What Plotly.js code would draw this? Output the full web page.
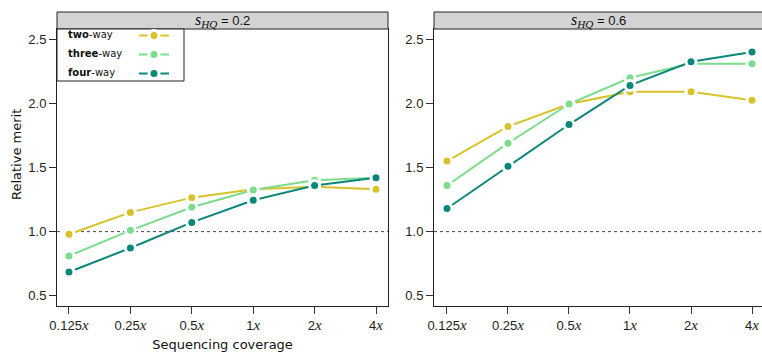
<!DOCTYPE html>
<html>
<head>
<meta charset="utf-8">
<script src="https://cdn.plot.ly/plotly-3.0.1.min.js"></script>
<style>html,body{margin:0;padding:0;background:#fff;}#chart{width:762px;height:353px;}</style>
</head>
<body>
<div id="chart"></div>
<script>
// ---- data ----
const coverage = ["0.125", "0.25", "0.5", "1", "2", "4"];
const seriesNames = ["two", "three", "four"];
const panelTitles = ["0.2", "0.6"];

// s_HQ = 0.2
const twoWay02   = [0.98, 1.15, 1.265, 1.33, 1.35, 1.33];
const threeWay02 = [0.81, 1.01, 1.19, 1.325, 1.40, 1.42];
const fourWay02  = [0.685, 0.872, 1.072, 1.245, 1.36, 1.42];

// s_HQ = 0.6
const twoWay06   = [1.55, 1.82, 1.995, 2.09, 2.09, 2.025];
const threeWay06 = [1.36, 1.69, 1.995, 2.20, 2.31, 2.31];
const fourWay06  = [1.18, 1.51, 1.835, 2.14, 2.325, 2.40];

const colors = ["#d8c22a", "#7bdc8b", "#0b877a"];

// ---- build ----
const W = 762, H = 353;
const px = v => v / W;
const py = v => (H - v) / H;

const italX = '<span style="font-family:\'Liberation Serif\',serif;font-style:italic;font-size:15px">x</span>';
const tickText = coverage.map(c => c + italX);

const panels = [
  [twoWay02, threeWay02, fourWay02],
  [twoWay06, threeWay06, fourWay06]
];

const traces = [];
panels.forEach((set, p) => {
  set.forEach((vals, i) => {
    traces.push({
      type: 'scatter', mode: 'lines+markers',
      x: coverage, y: vals,
      xaxis: p === 0 ? 'x' : 'x2', yaxis: p === 0 ? 'y' : 'y2',
      name: ' ',
      showlegend: p === 0,
      line: {color: colors[i], width: 2},
      marker: {color: colors[i], size: 10, line: {color: '#ffffff', width: 3}},
      cliponaxis: false
    });
  });
});

const yTickFont = {family: 'Liberation Sans, Arial, sans-serif', size: 13, color: '#222'};

function xa(domain, range, anchor) {
  return {
    domain: domain, type: 'category', range: range, anchor: anchor,
    tickmode: 'array', tickvals: coverage, ticktext: tickText,
    ticks: 'outside', ticklen: 7, tickcolor: '#333', tickwidth: 1,
    showline: true, mirror: true, linecolor: '#222', linewidth: 1,
    showgrid: false, zeroline: false,
    tickfont: yTickFont, fixedrange: true
  };
}
function ya(anchor) {
  return {
    domain: [py(306), py(29)], range: [0.42, 2.58], anchor: anchor,
    tickvals: [0.5, 1.0, 1.5, 2.0, 2.5], ticktext: ['0.5', '1.0', '1.5', '2.0', '2.5'],
    ticks: 'outside', ticklen: 7, tickcolor: '#333', tickwidth: 1,
    showline: true, mirror: true, linecolor: '#222', linewidth: 1,
    showgrid: false, zeroline: false,
    tickfont: yTickFont, fixedrange: true
  };
}

const xaxis = xa([px(57), px(388)], [-0.195, 5.195], 'y');
xaxis.title = {text: 'Sequencing coverage', font: {family: 'DejaVu Sans, sans-serif', size: 13, color: '#111'}, standoff: 8};
const xaxis2 = xa([px(434), 1], [-0.213, 5.164], 'y2');
const yaxis = ya('x');
const yaxis2 = ya('x2');

const shapes = [
  // reference line at 1.0, inside each panel
  {type: 'line', xref: 'x domain', yref: 'y', x0: 0, x1: 1, y0: 1, y1: 1,
   line: {color: '#444', width: 1, dash: 'dot'}, layer: 'below'},
  {type: 'line', xref: 'x2 domain', yref: 'y2', x0: 0, x1: 1, y0: 1, y1: 1,
   line: {color: '#444', width: 1, dash: 'dot'}, layer: 'below'},
  // strips
  {type: 'rect', xref: 'paper', yref: 'paper', x0: px(57), x1: px(388), y0: py(29), y1: py(12),
   fillcolor: '#d3d3d3', line: {color: '#222', width: 1}},
  {type: 'rect', xref: 'paper', yref: 'paper', x0: px(434), x1: px(763), y0: py(29), y1: py(12),
   fillcolor: '#d3d3d3', line: {color: '#222', width: 1}},
  // legend box
  {type: 'rect', xref: 'paper', yref: 'paper', x0: px(57), x1: px(184), y0: py(81), y1: py(29),
   fillcolor: '#ffffff', line: {color: '#222', width: 1}, layer: 'above'}
];

const stripFont = {family: 'Liberation Sans, Arial, sans-serif', size: 13, color: '#111'};
const sHQ = '<span style="font-family:\'Liberation Serif\',serif;font-style:italic;font-size:16px">s<sub>HQ</sub></span> = ';
const annotations = [
  {xref: 'paper', yref: 'paper', x: px(222), y: py(20.5), xanchor: 'center', yanchor: 'middle', showarrow: false,
   text: sHQ + panelTitles[0], font: stripFont},
  {xref: 'paper', yref: 'paper', x: px(598), y: py(20.5), xanchor: 'center', yanchor: 'middle', showarrow: false,
   text: sHQ + panelTitles[1], font: stripFont},
  {xref: 'paper', yref: 'paper', x: px(16), y: py(155), xanchor: 'center', yanchor: 'middle', showarrow: false,
   textangle: -90, text: 'Relative merit', font: {family: 'DejaVu Sans, sans-serif', size: 13, color: '#111'}}
];
const legendY = [35, 53.5, 72];
seriesNames.forEach((n, i) => {
  annotations.push({xref: 'paper', yref: 'paper', x: px(66), y: py(legendY[i]), xanchor: 'left', yanchor: 'middle',
    showarrow: false, text: '<b>' + n + '</b>-way',
    font: {family: 'DejaVu Sans, sans-serif', size: 10, color: '#111'}});
});

const layout = {
  width: W, height: H,
  margin: {l: 0, r: 0, t: 0, b: 0},
  paper_bgcolor: '#fff', plot_bgcolor: '#fff',
  xaxis: xaxis, yaxis: yaxis, xaxis2: xaxis2, yaxis2: yaxis2,
  shapes: shapes, annotations: annotations,
  showlegend: true,
  legend: {x: px(134), y: py(21), xanchor: 'left', yanchor: 'top', bgcolor: 'rgba(0,0,0,0)',
    borderwidth: 0, font: {family: 'DejaVu Sans, sans-serif', size: 10}, tracegroupgap: 0},
  font: {family: 'Liberation Sans, Arial, sans-serif'}
};

Plotly.newPlot('chart', traces, layout, {staticPlot: true, displayModeBar: false});
</script>
</body>
</html>
